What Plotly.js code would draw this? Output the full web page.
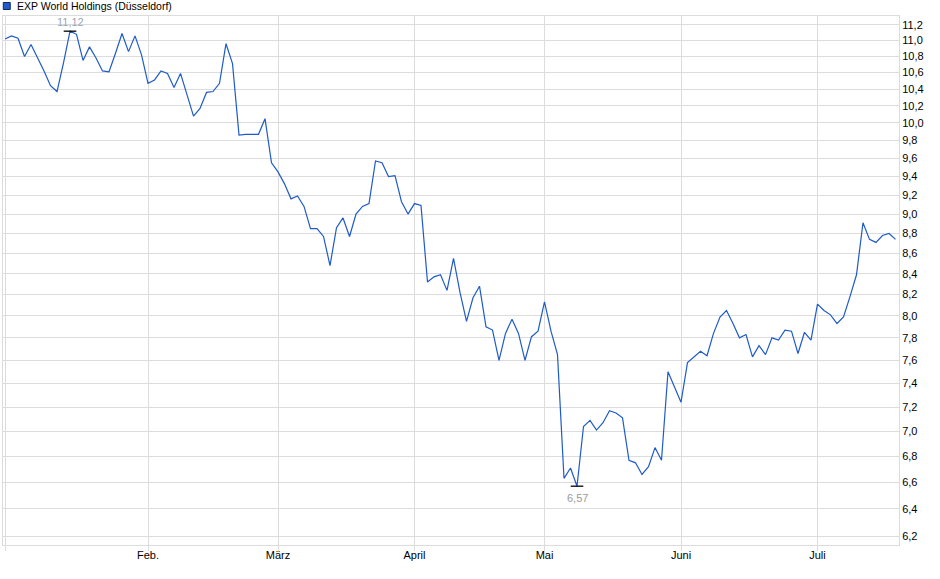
<!DOCTYPE html>
<html>
<head>
<meta charset="utf-8">
<script src="https://cdn.plot.ly/plotly-3.0.1.min.js"></script>
<style>html,body{margin:0;padding:0;background:#fff;}#chart{width:940px;height:579px;}</style>
</head>
<body>
<div id="chart"></div>
<script>
// Series name
const seriesName = "EXP World Holdings (Düsseldorf)";

// Closing prices (EUR), one per trading day, 2 Jan – 17 Jul
const prices = [
  11.02, 11.06, 11.03, 10.80, 10.95, 10.79, 10.62, 10.44, 10.37, 10.72,
  11.12, 11.08, 10.75, 10.92, 10.78, 10.62, 10.61, 10.84, 11.09, 10.86,
  11.06, 10.82, 10.47, 10.51, 10.62, 10.59, 10.42, 10.59, 10.33, 10.08,
  10.17, 10.36, 10.37, 10.47, 10.96, 10.71, 9.86, 9.87, 9.87, 9.87,
  10.05, 9.55, 9.45, 9.32, 9.16, 9.19, 9.08, 8.85, 8.85, 8.77,
  8.48, 8.86, 8.96, 8.77, 9.00, 9.08, 9.11, 9.57, 9.55, 9.40,
  9.41, 9.13, 9.00, 9.11, 9.09, 8.32, 8.37, 8.39, 8.24, 8.55,
  8.22, 7.95, 8.17, 8.28, 7.90, 7.87, 7.60, 7.84, 7.97, 7.84,
  7.60, 7.81, 7.86, 8.13, 7.86, 7.65, 6.63, 6.71, 6.57, 7.04,
  7.09, 7.01, 7.07, 7.17, 7.15, 7.11, 6.77, 6.75, 6.66, 6.72,
  6.87, 6.77, 7.50, 7.37, 7.24, 7.58, 7.63, 7.68, 7.64, 7.84,
  7.99, 8.05, 7.93, 7.80, 7.83, 7.63, 7.73, 7.65, 7.80, 7.78,
  7.87, 7.86, 7.66, 7.85, 7.78, 8.11, 8.05, 8.01, 7.93, 7.99,
  8.18, 8.39, 8.91, 8.74, 8.71, 8.78, 8.80, 8.74
];

// Month labels and the trading-day index where each month starts
const monthLabels = ["", "Feb.", "März", "April", "Mai", "Juni", "Juli"];
const monthStartIdx = [0, 22, 42, 63, 83, 104, 125];

// Y-axis tick values / labels
const yTickVals = [6.2, 6.4, 6.6, 6.8, 7.0, 7.2, 7.4, 7.6, 7.8, 8.0, 8.2, 8.4, 8.6, 8.8, 9.0, 9.2, 9.4, 9.6, 9.8, 10.0, 10.2, 10.4, 10.6, 10.8, 11.0, 11.2];
const yTickText = yTickVals.map(v => v.toFixed(1).replace('.', ','));

const xIdx = prices.map((_, i) => i);
const maxV = Math.max(...prices), minV = Math.min(...prices);
const maxI = prices.indexOf(maxV), minI = prices.indexOf(minV);
const fmt = v => v.toFixed(2).replace('.', ',');

const FONT = "Liberation Sans, Arial, sans-serif";
const GRID = "#dcdcdc";

const traces = [
  {
    x: xIdx, y: prices, type: "scatter", mode: "lines",
    line: {color: "#1f5bc8", width: 1.2}, hoverinfo: "skip", showlegend: false
  },
  {
    x: [maxI, minI], y: [maxV, minV], type: "scatter", mode: "markers",
    marker: {symbol: "line-ew", size: 9, line: {color: "#000", width: 1.3}},
    hoverinfo: "skip", showlegend: false
  }
];

const layout = {
  width: 940, height: 579,
  margin: {l: 3, r: 41, t: 16, b: 34, pad: 0},
  paper_bgcolor: "#fff", plot_bgcolor: "#fff",
  font: {family: FONT, size: 11, color: "#000"},
  xaxis: {
    range: [-0.31, 137.54], tickvals: monthStartIdx, ticktext: monthLabels,
    showgrid: true, gridcolor: GRID, gridwidth: 1,
    showline: true, linecolor: GRID, linewidth: 1, mirror: true,
    ticks: "outside", ticklen: 5, tickcolor: GRID, zeroline: false,
    ticklabelstandoff: -5,
    tickfont: {family: FONT, size: 11, color: "#000"}, fixedrange: true
  },
  yaxis: {
    type: "log", side: "right",
    range: [Math.log10(6.138), Math.log10(11.317)],
    tickvals: yTickVals, ticktext: yTickText,
    showgrid: true, gridcolor: GRID, gridwidth: 1,
    showline: true, linecolor: GRID, linewidth: 1, mirror: true,
    ticks: "", zeroline: false,
    tickfont: {family: FONT, size: 11, color: "#000"}, fixedrange: true
  },
  shapes: [
    {type: "rect", xref: "paper", yref: "paper",
     x0: 0.0003, x1: 0.0081, y0: (545 - 9.5) / 529, y1: (545 - 2.5) / 529,
     fillcolor: "#1f5bc8", line: {color: "#0a2a6a", width: 1}}
  ],
  annotations: [
    {xref: "paper", yref: "paper", x: (15 - 3) / 896, y: (545 - 6) / 529,
     xanchor: "left", yanchor: "middle", showarrow: false,
     text: seriesName, font: {family: FONT, size: 10.5, color: "#000"}},
    {x: maxI, y: Math.log10(maxV), xref: "x", yref: "y", showarrow: false,
     yshift: 9, text: fmt(maxV), font: {family: FONT, size: 11, color: "#9aa6ba"}},
    {x: minI, y: Math.log10(minV), xref: "x", yref: "y", showarrow: false,
     yshift: -12, text: fmt(minV), font: {family: FONT, size: 11, color: "#9a9a9a"}}
  ]
};

Plotly.newPlot("chart", traces, layout, {staticPlot: true, displayModeBar: false});
</script>
</body>
</html>
